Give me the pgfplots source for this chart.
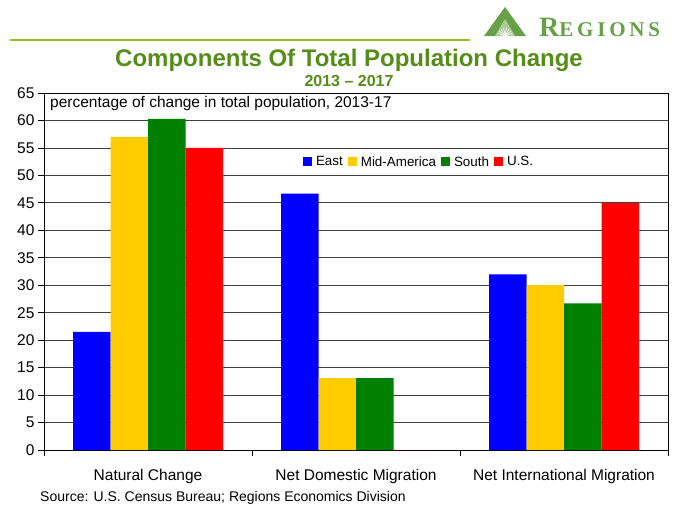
\documentclass[border=0pt]{standalone}
\usepackage{fontspec}
\setmainfont{Liberation Sans}
\newfontfamily\logofont[LetterSpace=18]{Liberation Serif}
\usepackage{pgfplots}
\pgfplotsset{compat=1.18}
\definecolor{cEast}{RGB}{0,0,255}
\definecolor{cMid}{RGB}{255,204,0}
\definecolor{cSouth}{RGB}{0,128,0}
\definecolor{cUS}{RGB}{255,0,0}
\definecolor{titlegreen}{RGB}{86,140,24}
\definecolor{logogreen}{RGB}{104,160,72}
\definecolor{linegreen}{RGB}{140,190,40}
\begin{document}
\begin{tikzpicture}
\begin{axis}[
  at={(44pt,-450pt)}, anchor=south west,
  scale only axis, width=624pt, height=357pt,
  xmin=-0.5, xmax=2.5, ymin=0, ymax=65,
  ytick={0,5,...,65},
  xtick pos=bottom, ytick pos=left,
  ymajorgrids, grid style={black!75, line width=0.8pt},
  axis line style={black, line width=0.8pt},
  tick align=outside,
  tick style={black, line width=0.8pt},
  major tick length=6pt,
  ybar=0pt, bar width=37.5pt,
  xtick={-0.5,0.5,1.5,2.5}, xticklabels={},
  extra x ticks={0,1,2},
  extra x tick labels={Natural Change, Net Domestic Migration, Net International Migration},
  extra x tick style={major tick length=0pt, grid=none},
  xticklabel style={font=\fontsize{15.5}{18}\selectfont, yshift=-16pt},
  yticklabel style={font=\fontsize{15.5}{18}\selectfont},
  /pgf/number format/assume math mode=true,
  legend style={at={(axis description cs:0.41,0.807)}, anchor=west, draw=none, fill=none,
    font=\fontsize{13.4}{15}\selectfont,
    /tikz/every odd column/.append style={column sep=2pt},
    /tikz/every even column/.append style={column sep=3pt}},
  legend columns=-1,
  legend image code/.code={\fill[#1] (0pt,-4.5pt) rectangle (9pt,4.5pt);},
  every axis plot/.append style={draw=none},
]
\addplot[fill=cEast] coordinates {(0,21.5) (1,46.7) (2,32.0)};
\addplot[fill=cMid] coordinates {(0,57.0) (1,13.1) (2,30.0)};
\addplot[fill=cSouth] coordinates {(0,60.3) (1,13.1) (2,26.7)};
\addplot[fill=cUS] coordinates {(0,55.0) (1,0) (2,45.0)};
\legend{East, Mid-America, South, U.S.}
\node[anchor=west, inner sep=0pt, font=\fontsize{15.5}{18}\selectfont] at (axis description cs:0.0096,0.972) {percentage of change in total population, 2013-17};
\end{axis}
% header line and titles
\draw[linegreen, line width=2pt] (10pt,-40pt) -- (470pt,-40pt);
\node[anchor=base, inner sep=0pt, text=titlegreen, font=\bfseries\fontsize{24}{28}\selectfont] at (349pt,-66pt) {Components Of Total Population Change};
\node[anchor=base, inner sep=0pt, text=titlegreen, font=\bfseries\fontsize{16}{19}\selectfont] at (349pt,-86pt) {2013 -- 2017};
\node[anchor=base west, inner sep=0pt, font=\fontsize{14}{16}\selectfont] at (40pt,-501pt) {Source: U.S. Census Bureau; Regions Economics Division};
% logo
\fill[logogreen] (484pt,-36pt) -- (505pt,-7pt) -- (526pt,-36pt) -- cycle;
\fill[logogreen!55] (495pt,-36pt) -- (505pt,-19pt) -- (515pt,-36pt) -- cycle;
\foreach \a in {0,20,...,180} {\draw[white, line width=0.6pt] (505pt,-36pt) -- ++(\a:8pt);}
\node[anchor=base west, inner sep=0pt, text=logogreen, font=\logofont\bfseries] at (539pt,-36pt) {{\fontsize{28}{30}\selectfont R}{\fontsize{21}{24}\selectfont EGIONS}};
\pgfresetboundingbox
\path (0pt,0pt) rectangle (684pt,-504pt);
\end{tikzpicture}
\end{document}
